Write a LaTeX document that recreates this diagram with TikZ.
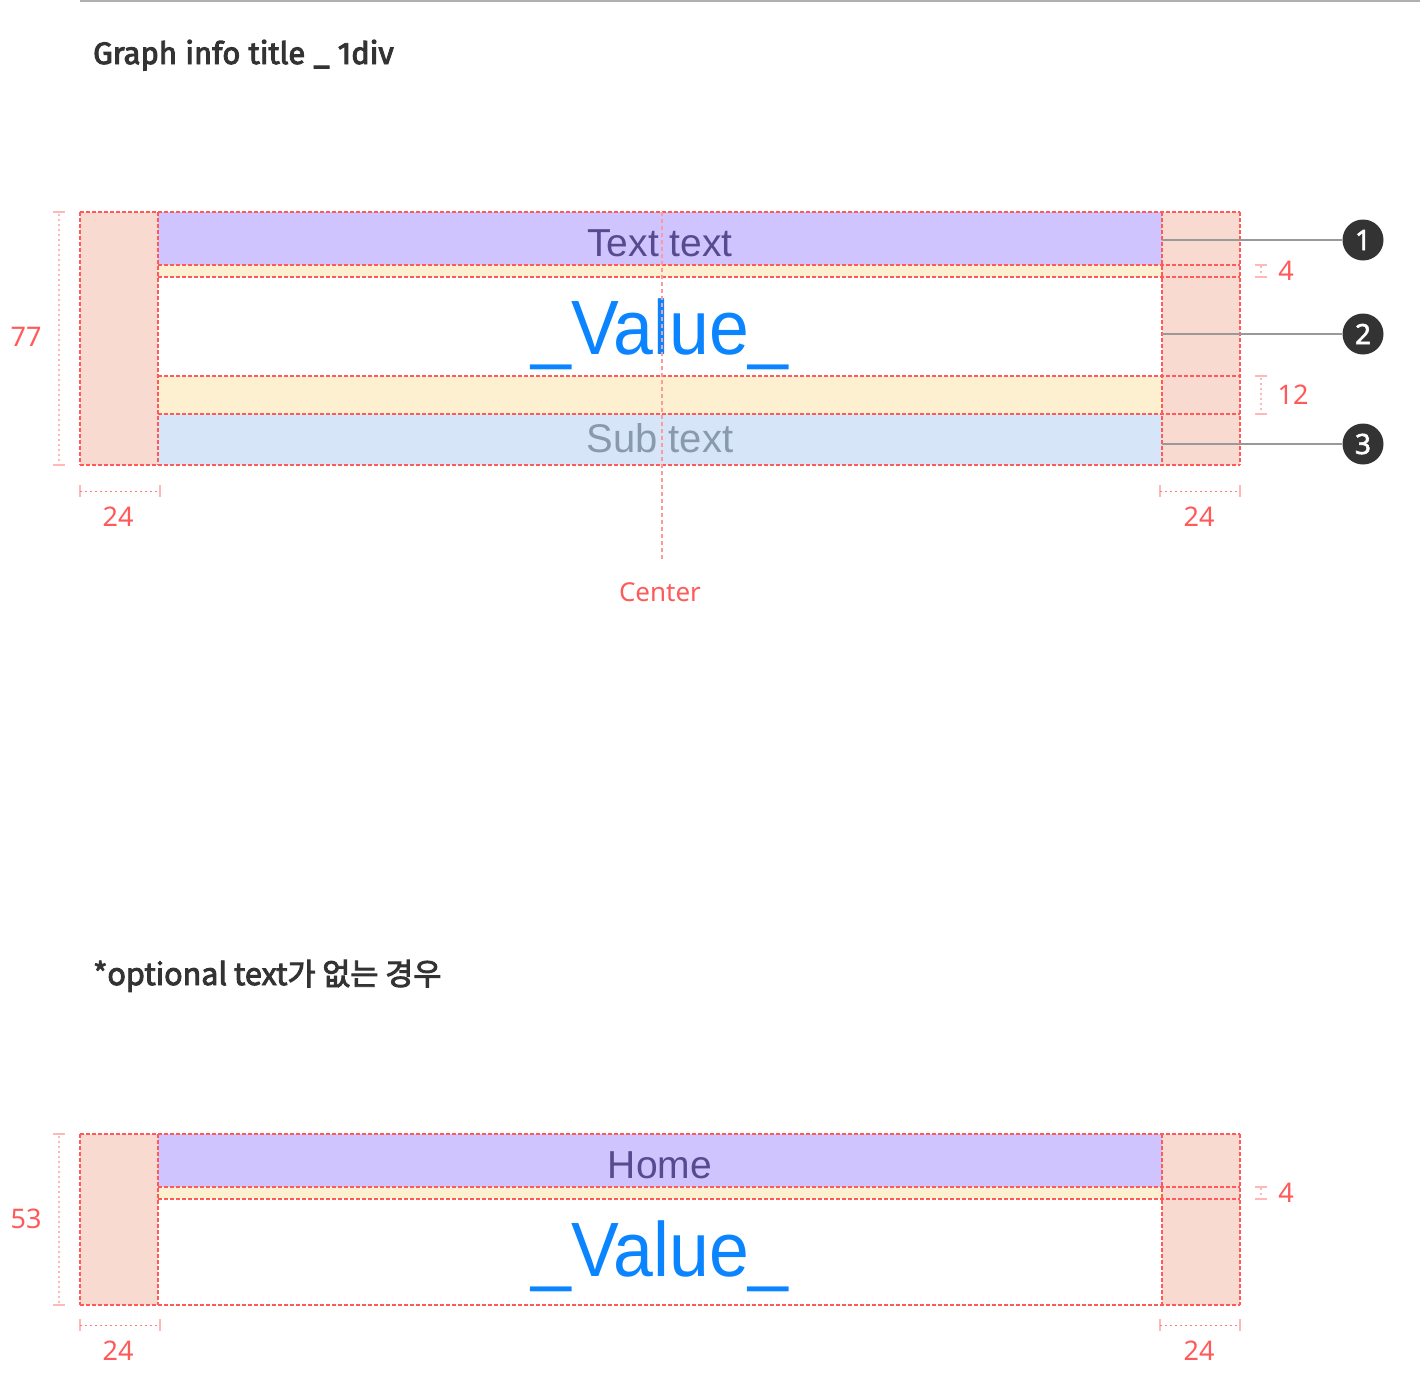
\documentclass[tikz,border=0pt]{standalone}
\usepackage{fontspec}
\setmainfont{Liberation Sans}
\newfontfamily\valfont[FakeStretch=0.93]{Liberation Sans}
\newfontfamily\titlefont[FakeBold=3]{Fira Sans}
\newfontfamily\krfont[FakeBold=3]{Noto Sans CJK KR}
\newfontfamily\dimfont{Noto Sans}
\newfontfamily\badgefont[FakeBold=2]{Noto Sans}
\definecolor{padc}{HTML}{F8DAD0}
\definecolor{purc}{HTML}{D0C4FF}
\definecolor{yelc}{HTML}{FDF0D0}
\definecolor{bluc}{HTML}{D6E6F8}
\definecolor{redc}{HTML}{FF5A5A}
\definecolor{pinkc}{HTML}{FFB8B8}
\definecolor{ctrc}{HTML}{FF9A9A}
\definecolor{darkc}{HTML}{333333}
\definecolor{topc}{HTML}{574A8E}
\definecolor{subc}{HTML}{8A9AAE}
\definecolor{valc}{HTML}{0A84FF}
\definecolor{linec}{HTML}{999999}
\definecolor{rulec}{HTML}{B0B0B0}
\begin{document}
\begin{tikzpicture}[x=1pt,y=-1pt,
  guide/.style={draw=redc,line width=1.5pt,dash pattern=on 3.5pt off 2.5pt},
  ctrline/.style={draw=ctrc,line width=1.5pt,dash pattern=on 4pt off 3pt},
  dimline/.style={draw=pinkc,line width=2pt,dash pattern=on 2pt off 3pt},
  dimcap/.style={draw=pinkc,line width=2pt},
  hdim/.style={draw=redc!80,line width=1pt,dash pattern=on 2pt off 3pt},
  dimlab/.style={text=redc,font=\dimfont\fontsize{27}{30}\selectfont,inner sep=0,anchor=base},
  callout/.style={draw=linec,line width=2pt},
  badge/.style={circle,fill=darkc,minimum size=41pt,inner sep=0,text=white,font=\badgefont\fontsize{28}{30}\selectfont},
  txt/.style={inner sep=0,anchor=base}]
\useasboundingbox (0,0) rectangle (1420,1390);
% top rule
\draw[rulec,line width=2pt] (80,1) -- (1420,1);
% title
\node[txt,anchor=base west,text=darkc,font=\titlefont\fontsize{31}{36}\selectfont] (title1) at (93,64) {Graph info title \_ 1div};

% ===== block 1 =====
\fill[padc] (80,212) rectangle (158,465);
\fill[padc] (1162,212) rectangle (1240,465);
\fill[purc] (158,212) rectangle (1162,265);
\fill[yelc] (158,265) rectangle (1162,277);
\fill[yelc] (158,376) rectangle (1162,414);
\fill[bluc] (158,414) rectangle (1162,465);
% guides
\draw[guide] (80,212) -- (1240,212);
\draw[guide] (158,265) -- (1240,265);
\draw[guide] (158,277) -- (1240,277);
\draw[guide] (158,376) -- (1240,376);
\draw[guide] (158,414) -- (1240,414);
\draw[guide] (80,465) -- (1240,465);
\foreach \x in {80,158,1162,1240} \draw[guide] (\x,212) -- (\x,465);
% texts
\node[txt,text=topc,font=\fontsize{39}{44}\selectfont] (tt) at (660,256) {Text text};
\node[txt,text=valc,font=\valfont\fontsize{77}{80}\selectfont] (v1) at (660,354) {\_Value\_};
\node[txt,text=subc,font=\fontsize{40}{44}\selectfont] (st) at (660,452) {Sub text};
% center line
\draw[ctrline] (662,212) -- (662,560);
\node[txt,text=redc,font=\dimfont\fontsize{26}{30}\selectfont] (ctr) at (660,601) {Center};
% left dim 77
\draw[dimline] (59,214) -- (59,463);
\draw[dimcap] (53,212) -- (65,212);
\draw[dimcap] (53,465) -- (65,465);
\node[dimlab] (d77) at (26,346) {77};
% bottom dims
\draw[dimcap] (80,485) -- (80,497);
\draw[dimcap] (160,485) -- (160,497);
\draw[hdim] (80,491) -- (160,491);
\node[dimlab] (d24a) at (118,526) {24};
\draw[dimcap] (1160,485) -- (1160,497);
\draw[dimcap] (1240,485) -- (1240,497);
\draw[hdim] (1160,491) -- (1240,491);
\node[dimlab] (d24b) at (1199,526) {24};
% right dims
\draw[dimcap] (1255,265) -- (1267,265);
\draw[dimcap] (1255,277) -- (1267,277);
\draw[dimline] (1261,266) -- (1261,276);
\node[dimlab] (d4a) at (1286,280) {4};
\draw[dimcap] (1255,376) -- (1267,376);
\draw[dimcap] (1255,414) -- (1267,414);
\draw[dimline] (1261,378) -- (1261,412);
\node[dimlab] (d12) at (1293,404) {12};
% callouts
\node[badge] (b1) at (1363,240) {1};
\node[badge] (b2) at (1363,334) {2};
\node[badge] (b3) at (1363,444) {3};
\coordinate (c1) at (1162,240);
\coordinate (c2) at (1162,334);
\coordinate (c3) at (1162,444);
\draw[callout] (c1) -- (b1);
\draw[callout] (c2) -- (b2);
\draw[callout] (c3) -- (b3);

% ===== block 2 =====
\node[txt,anchor=base west,text=darkc,font=\krfont\fontsize{30.5}{36}\selectfont] (title2) at (93,985) {*optional text가 없는 경우};
\fill[padc] (80,1134) rectangle (158,1305);
\fill[padc] (1162,1134) rectangle (1240,1305);
\fill[purc] (158,1134) rectangle (1162,1187);
\fill[yelc] (158,1187) rectangle (1162,1199);
\draw[guide] (80,1134) -- (1240,1134);
\draw[guide] (158,1187) -- (1240,1187);
\draw[guide] (158,1199) -- (1240,1199);
\draw[guide] (80,1305) -- (1240,1305);
\foreach \x in {80,158,1162,1240} \draw[guide] (\x,1134) -- (\x,1305);
\node[txt,text=topc,font=\fontsize{39}{44}\selectfont] (home) at (660,1178) {Home};
\node[txt,text=valc,font=\valfont\fontsize{77}{80}\selectfont] (v2) at (660,1276) {\_Value\_};
% left dim 53
\draw[dimline] (59,1136) -- (59,1303);
\draw[dimcap] (53,1134) -- (65,1134);
\draw[dimcap] (53,1305) -- (65,1305);
\node[dimlab] (d53) at (26,1228) {53};
% bottom dims
\draw[dimcap] (80,1319) -- (80,1331);
\draw[dimcap] (160,1319) -- (160,1331);
\draw[hdim] (80,1325) -- (160,1325);
\node[dimlab] (d24c) at (118,1360) {24};
\draw[dimcap] (1160,1319) -- (1160,1331);
\draw[dimcap] (1240,1319) -- (1240,1331);
\draw[hdim] (1160,1325) -- (1240,1325);
\node[dimlab] (d24d) at (1199,1360) {24};
% right dim 4
\draw[dimcap] (1255,1187) -- (1267,1187);
\draw[dimcap] (1255,1199) -- (1267,1199);
\draw[dimline] (1261,1188) -- (1261,1198);
\node[dimlab] (d4b) at (1286,1202) {4};
\end{tikzpicture}
\end{document}
